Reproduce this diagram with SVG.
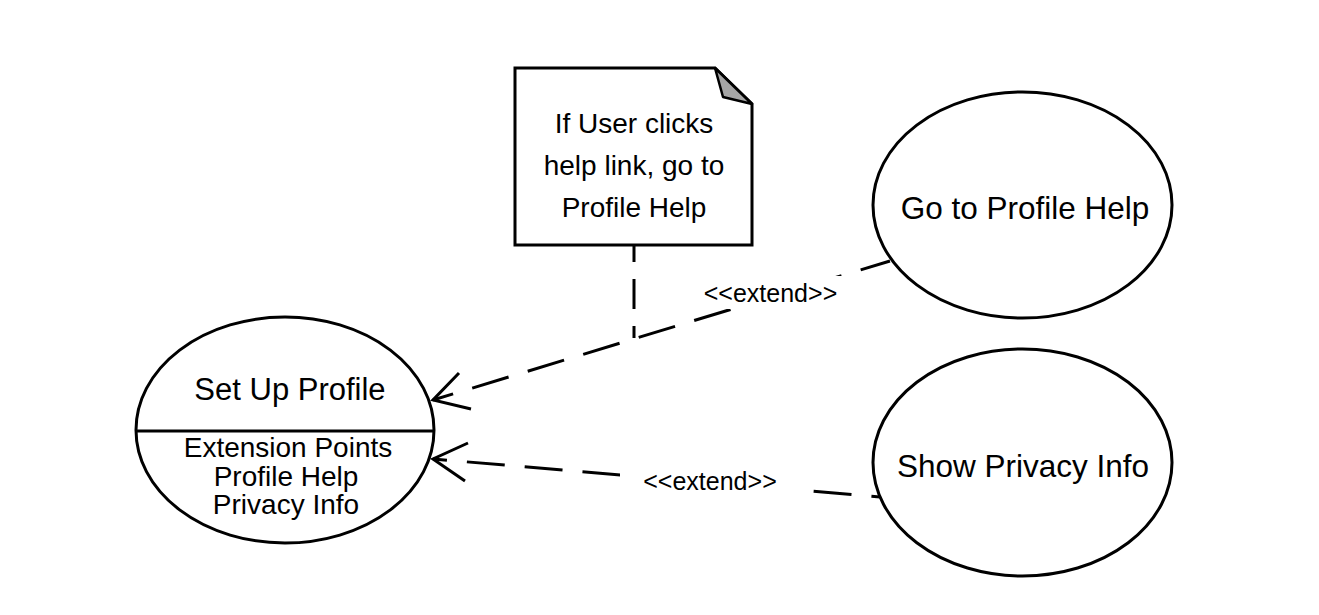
<svg xmlns="http://www.w3.org/2000/svg" width="1319" height="615" viewBox="0 0 1319 615">
<style>
.shape{fill:#fff;stroke:#000;stroke-width:3}
.t{font-family:"Liberation Sans",Arial,sans-serif;fill:#000;text-anchor:middle}
.dash{fill:none;stroke:#000;stroke-width:3;stroke-dasharray:38 20;stroke-dashoffset:17}
.head{fill:none;stroke:#000;stroke-width:3;stroke-linejoin:miter}
.lbg{fill:#fff;stroke:none}
</style>
<rect width="1319" height="615" fill="#fff"/>
<g id="note">
<polygon class="shape" points="515,68 715,68 752,104 752,245 515,245"/>
<polygon points="715,68 723,97 752,104" fill="#a6a6a6" stroke="#000" stroke-width="2.5" stroke-linejoin="round"/>
<text class="t" x="634" y="133" font-size="28">If User clicks</text>
<text class="t" x="634" y="175" font-size="28">help link, go to</text>
<text class="t" x="634" y="217" font-size="28">Profile Help</text>
</g>
<g id="setup">
<ellipse class="shape" cx="285" cy="430" rx="149" ry="113"/>
<line x1="136" y1="431" x2="434" y2="431" stroke="#000" stroke-width="3"/>
<text class="t" x="290" y="400" font-size="31">Set Up Profile</text>
<text class="t" x="288" y="457" font-size="28">Extension Points</text>
<text class="t" x="286" y="486" font-size="28">Profile Help</text>
<text class="t" x="286" y="514" font-size="28">Privacy Info</text>
</g>
<g id="gohelp">
<ellipse class="shape" cx="1022.5" cy="205" rx="149.5" ry="113"/>
<text class="t" x="1025" y="219" font-size="31.5">Go to Profile Help</text>
</g>
<g id="privacy">
<ellipse class="shape" cx="1022.5" cy="462.5" rx="149.5" ry="113.5"/>
<text class="t" x="1023" y="477" font-size="31.5">Show Privacy Info</text>
</g>
<g id="connectors">
<line x1="634" y1="245" x2="634" y2="338" fill="none" stroke="#000" stroke-width="3" stroke-dasharray="30 17" stroke-dashoffset="13"/>
<line class="dash" x1="433" y1="400" x2="890" y2="261"/>
<path class="head" d="M459,373 L433,400 L471,409"/>
<line class="dash" x1="433" y1="459" x2="880" y2="497" style="stroke-dashoffset:24"/>
<path class="head" d="M468,443 L433,459 L465,481"/>
<rect class="lbg" x="700" y="276" width="142" height="33"/>
<text class="t" x="770.5" y="302" font-size="25">&lt;&lt;extend&gt;&gt;</text>
<rect class="lbg" x="620" y="468" width="184" height="32"/>
<text class="t" x="710" y="490" font-size="25">&lt;&lt;extend&gt;&gt;</text>
</g>
</svg>
